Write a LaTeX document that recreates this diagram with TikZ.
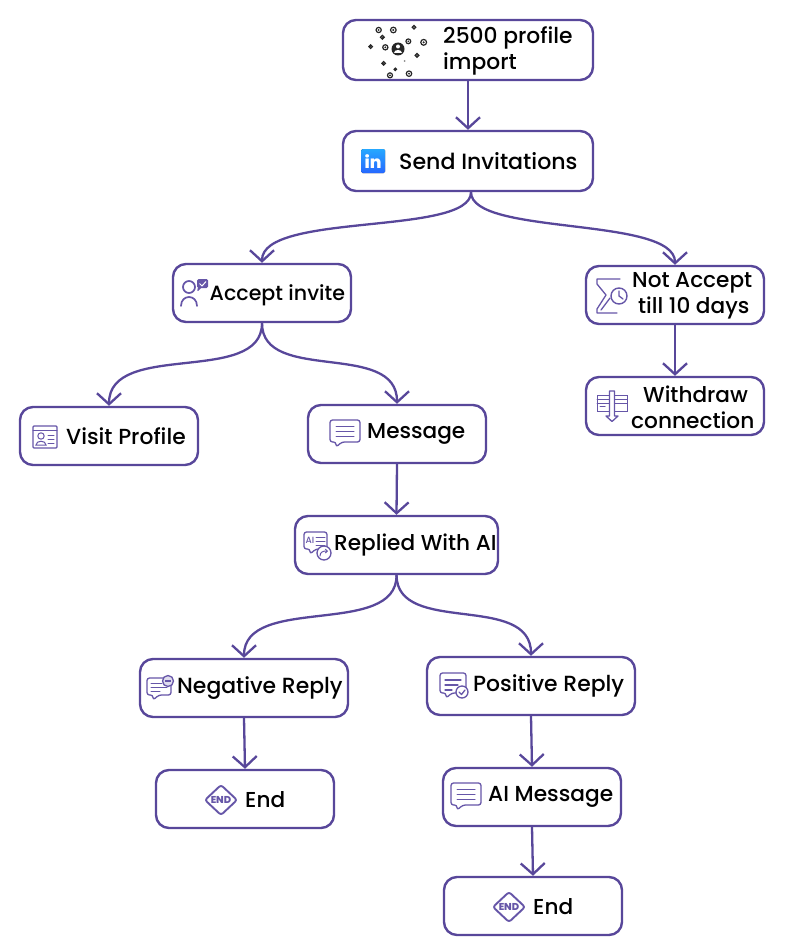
\documentclass[tikz,border=0pt]{standalone}
\usepackage{fontspec}
\setmainfont{Poppins Medium}
\usetikzlibrary{arrows.meta}
\definecolor{pur}{HTML}{58479A}
\definecolor{ico}{HTML}{6656A8}
\tikzset{
  box/.style={draw=pur,line width=2.4pt,rounded corners=13pt,fill=white,inner sep=0pt},
  lab/.style={anchor=base west,inner sep=0pt,yshift=-.7pt,font=\fontsize{#1}{26}\selectfont,text=black},
  lab/.default=21.8,
  link/.style={draw=pur,line width=2.3pt,-{Straight Barb[length=11pt,width=24pt,line width=2.3pt]}},
  icon/.style={draw=ico,line width=1.3pt,line join=round,line cap=round},
  thin icon/.style={draw=ico,line width=1pt,line cap=round},
  endtxt/.style={inner sep=0pt,font=\fontsize{10}{10}\bfseries\selectfont,text=ico}
}
\newcommand{\mybox}[5]{%
  \node[box,minimum width=#4pt-#2pt,minimum height=#5pt-#3pt] (#1) at ({(#2+#4)/2},{(#3+#5)/2}) {};}
\newcommand{\mybubble}[4]{% x0 y0 x1 y1: speech bubble with tail at lower left
  \draw[icon,rounded corners=2.5pt] (#1,#2) -- (#3,#2) -- (#3,#4) -- (#1+12,#4) -- (#1+6,#4+5) -- (#1+6,#4) -- (#1,#4) -- cycle;}
\newcommand{\myend}[3]{% name x y
  \draw[icon,line width=1.9pt,rounded corners=2.5pt] (#2-16,#3) -- (#2,#3-15) -- (#2+16,#3) -- (#2,#3+15) -- cycle;
  \node[endtxt] (#1) at (#2,#3) {END};}
\begin{document}
\begin{tikzpicture}[x=1pt,y=-1pt]
\useasboundingbox (0,0) rectangle (800,950);
% boxes
\mybox{imp}{343}{20}{593}{80}
\mybox{send}{343}{131}{593}{191}
\mybox{acc}{173}{264}{351}{322}
\mybox{nacc}{586}{266}{764}{324}
\mybox{wd}{586}{377}{764}{435}
\mybox{vis}{20}{407}{198}{465}
\mybox{msg}{308}{405}{486}{463}
\mybox{rep}{295}{516}{498}{574}
\mybox{neg}{140}{659}{348}{717}
\mybox{pos}{427}{657}{635}{715}
\mybox{endA}{156}{770}{334}{828}
\mybox{aim}{443}{768}{621}{826}
\mybox{endB}{444}{877}{622}{935}
% connectors
\draw[link] (imp.south) -- (send.north);
\draw[link] ([xshift=3pt]send.south) .. controls (471,236) and (262,212) .. (acc.north);
\draw[link] ([xshift=3pt]send.south) .. controls (471,236) and (675,216) .. (nacc.north);
\draw[link] (nacc.south) -- (wd.north);
\draw[link] (acc.south) .. controls (262,386) and (109,340) .. (vis.north);
\draw[link] (acc.south) .. controls (262,384) and (397,340) .. (msg.north);
\draw[link] (msg.south) -- (rep.north);
\draw[link] (rep.south) .. controls (397,638) and (244,594) .. (neg.north);
\draw[link] (rep.south) .. controls (397,636) and (531,592) .. (pos.north);
\draw[link] (neg.south) -- (endA.north);
\draw[link] (pos.south) -- (aim.north);
\draw[link] (aim.south) -- (endB.north);
% labels
\node[lab] (t1) at (443,43) {2500 profile};
\node[lab] (t1b) at (443,69) {import};
\node[lab=22.1] (t2) at (399,169) {Send Invitations};
\node[lab=20.6] (t3) at (209.5,300) {Accept invite};
\node[lab=21.6] (t4) at (632,287) {Not Accept};
\node[lab=21.6] (t4b) at (638,313) {till 10 days};
\node[lab=21.6] (t5) at (643,402) {Withdraw};
\node[lab=21.7] (t5b) at (631,428) {connection};
\node[lab] (t6) at (66,444) {Visit Profile};
\node[lab=21.6] (t7) at (367,438) {Message};
\node[lab=21.6] (t8) at (334,550) {Replied With AI};
\node[lab=21.9] (t9) at (177,693) {Negative Reply};
\node[lab=21.6] (t10) at (245,807) {End};
\node[lab=21.9] (t11) at (473,691) {Positive Reply};
\node[lab=21.7] (t12) at (488,801) {AI Message};
\node[lab=21.6] (t13) at (533,914) {End};
% network icon
\fill[black!85] (398,49) circle (6.5pt);
\fill[white] (398,46.5) circle (2pt);
\fill[white] (394,53) .. controls (394,49.5) and (402,49.5) .. (402,53) -- cycle;
\foreach \a/\b/\r in {116/60/2.6,160/60/2.8,222/52/1.8,127/82/1.9,92/110/1.8,136/112/2.6,205/94/2.4,251/97/2.9,231/136/1.9,131/160/1.8,166/178/1.2,150/196/2.5,207/191/2.7}{
  \draw[black!85,line width=1.2pt,fill=white] ({340+\a/3},{10+\b/3}) circle (\r pt);
  \fill[black!85] ({340+\a/3},{10+\b/3}) circle (.4*\r pt);
}
\fill[black!45] ({340+194/3},{10+153/3}) circle (1pt);
% linkedin icon
\fill[top color=blue!40!cyan!85,bottom color=blue!70!cyan!85,rounded corners=1.5pt] (361,149) rectangle (385,173);
\node[inner sep=0pt,text=white,font=\fontsize{17}{17}\bfseries\selectfont] (li) at (373,161.5) {in};
% accept icon
\draw[icon,line width=1.7pt] (189,287) circle (6);
\draw[icon,line width=1.7pt] (181,306) .. controls (181,294) and (197,294) .. (197,306);
\fill[ico,rounded corners=1.5pt] (197,279) rectangle (208,288) (198,287) -- (197,292) -- (202,287) -- cycle;
\draw[white,line width=1pt] (199.5,283.5) -- (202,286) -- (206,281.5);
% not accept icon
\draw[icon] (620,279) -- (597,279) -- (597,284) -- (606,295) -- (597,309) -- (597,313) -- (617,313);
\draw[icon] (601,310) -- (610,298);
\draw[icon,line width=1.4pt,fill=white] (619,296) circle (8);
\draw[icon] (619,291) -- (619,296) -- (623,299);
% withdraw icon
\draw[thin icon] (597,395) rectangle (627,411);
\draw[thin icon] (597,399) -- (627,399) (597,403) -- (627,403);
\draw[thin icon] (600,406) -- (605,406);
\draw[icon,fill=white] (609.5,391) -- (614.5,391) -- (614.5,416) -- (618,416) -- (612,421.5) -- (606,416) -- (609.5,416) -- cycle;
% visit icon
\draw[icon,rounded corners=1pt] (33,426) rectangle (57,448);
\draw[thin icon] (33,430) -- (57,430);
\draw[thin icon] (41,436) circle (3.2);
\draw[thin icon] (36,445) .. controls (36,440) and (46,440) .. (46,445) -- cycle;
\draw[thin icon] (48,435) -- (54,435) (48,439) -- (54,439) (48,443) -- (54,443);
% message icon
\mybubble{330}{420}{360}{442}
\draw[thin icon] (336,426) -- (354,426) (336,431) -- (354,431) (336,436) -- (354,436);
% AI icon
\mybubble{304}{532}{327}{549}
\node[inner sep=0pt,text=ico,font=\fontsize{9}{9}\selectfont] (ai) at (310,540) {AI};
\draw[thin icon] (316,537) -- (325,537) (316,541) -- (325,541) (316,545) -- (325,545);
\draw[icon,fill=white] (324,553) circle (7);
\draw[thin icon,-{Straight Barb[length=2pt,width=4pt]}] (320,556) .. controls (320,552) and (323,551) .. (328,551);
% negative icon
\mybubble{147}{678}{171}{695}
\draw[thin icon] (151,683) -- (162,683) (151,687) -- (167,687) (151,691) -- (160,691);
\draw[icon,fill=ico!20] (168,681) circle (5.5);
\draw[ico,line width=1.3pt] (165,681) -- (171,681);
% positive icon
\mybubble{440}{673}{466}{693}
\draw[icon] (445,680) -- (461,680) (445,685) -- (458,685) (445,690) -- (452,690);
\draw[icon,fill=white] (462,692) circle (6);
\draw[icon] (459,692) -- (461.5,694.5) -- (465,690);
% AI message icon
\mybubble{451}{783}{481}{805}
\draw[thin icon] (457,789) -- (475,789) (457,794) -- (475,794) (457,799) -- (475,799);
% end icons
\myend{e1}{221}{800}
\myend{e2}{509}{907}
\end{tikzpicture}
\end{document}
